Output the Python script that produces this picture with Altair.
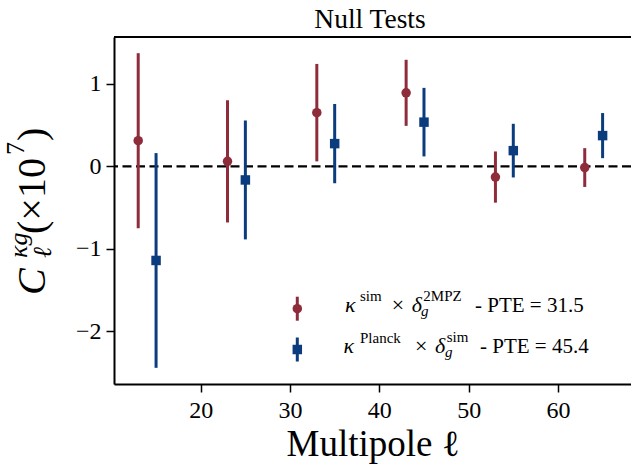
import altair as alt
import pandas as pd

# Bandpower centres of the two null-test cross-spectra
ell_sim_2mpz = [13, 23, 33, 43, 53, 63]
ell_planck_sim = [15, 25, 35, 45, 55, 65]

# C_ell^{kappa g} in units of 1e-7, with 1-sigma errors
cl_sim_2mpz = [0.31, 0.06, 0.65, 0.89, -0.13, -0.015]
err_sim_2mpz = [1.06, 0.74, 0.59, 0.40, 0.31, 0.235]
cl_planck_sim = [-1.14, -0.165, 0.275, 0.535, 0.19, 0.372]
err_planck_sim = [1.30, 0.72, 0.48, 0.415, 0.325, 0.273]

series_names = ["sim x 2MPZ", "Planck x sim"]
series_colors = ["#8E2C3B", "#0B3C7D"]
series_shapes = ["circle", "square"]
pte_values = [31.5, 45.4]

x_ticks = [20, 30, 40, 50, 60]
y_ticks = [-2, -1, 0, 1]

FONT = "Liberation Serif"
W, H = 517, 347
LEFT, TOP = 114, 37

rows = []
for name, ells, cls, errs in [
    (series_names[0], ell_sim_2mpz, cl_sim_2mpz, err_sim_2mpz),
    (series_names[1], ell_planck_sim, cl_planck_sim, err_planck_sim),
]:
    for e, c, s in zip(ells, cls, errs):
        rows.append({"series": name, "ell": e, "cl": c, "err": s})
df = pd.DataFrame(rows)
one_row = pd.DataFrame({"k": [0]})

x_enc = alt.X(
    "ell:Q",
    scale=alt.Scale(domain=[10.29, 68.18], nice=False, zero=False),
    axis=alt.Axis(
        values=x_ticks, format="d", title="Multipole ℓ", titleFont=FONT,
        titleFontSize=37, titleFontWeight="normal", titleColor="black",
        titleBaseline="alphabetic", titleY=71, labelFont=FONT,
        labelFontSize=24, labelColor="black", labelPadding=6, tickSize=8,
        tickWidth=1.5, tickColor="black", domainColor="black", domainWidth=2,
        grid=False, labelFlush=False,
    ),
)
y_enc = alt.Y(
    "cl:Q",
    scale=alt.Scale(domain=[-2.636, 1.566], nice=False, zero=False),
    axis=alt.Axis(
        values=y_ticks, format="d", title="", labelFont=FONT, labelFontSize=24,
        labelColor="black", labelPadding=5, tickSize=8, tickWidth=1.5,
        tickColor="black", domainColor="black", domainWidth=2, grid=False,
        labelFlush=False,
    ),
)
color_enc = alt.Color("series:N", scale=alt.Scale(domain=series_names, range=series_colors), legend=None)
shape_enc = alt.Shape("series:N", scale=alt.Scale(domain=series_names, range=series_shapes), legend=None)

base = alt.Chart(df).transform_calculate(
    lo="datum.cl - datum.err", hi="datum.cl + datum.err"
)

zero_line = alt.Chart(one_row).mark_rule(
    color="black", strokeDash=[9, 4.5], strokeWidth=2.2
).encode(y=alt.datum(0))

bars = base.mark_rule(strokeWidth=3).encode(
    x=x_enc, y=alt.Y("lo:Q"), y2="hi:Q", color=color_enc
)
points = base.mark_point(filled=True, opacity=1, size=90).encode(
    x="ell:Q", y="cl:Q", color=color_enc, shape=shape_enc
)
points_y = base.mark_point(opacity=0).encode(x="ell:Q", y=y_enc)

top_spine = alt.Chart(one_row).mark_rule(color="black", strokeWidth=2).encode(
    x=alt.value(0), x2=alt.value(W), y=alt.value(0)
)


def piece(text, x, y, size, italic=False, angle=0, align="left"):
    return alt.Chart(one_row).mark_text(
        text=text, font=FONT, fontSize=size,
        fontStyle="italic" if italic else "normal",
        align=align, baseline="alphabetic", angle=angle, color="black",
    ).encode(x=alt.value(x), y=alt.value(y))


title = piece("Null Tests", 256, -9, 27.5, align="center")

# y-axis label  C_ell^{kappa g} (x10^7), reading bottom to top
ylabel = [
    piece("C", 45 - LEFT, 295 - TOP, 40, italic=True, angle=270),
    piece("κg", 27 - LEFT, 258 - TOP, 26, italic=True, angle=270),
    piece("ℓ", 51 - LEFT, 258 - TOP, 26, italic=True, angle=270),
    piece("(×10", 45 - LEFT, 234 - TOP, 40, angle=270),
    piece("7", 24 - LEFT, 155 - TOP, 26, angle=270),
    piece(")", 45 - LEFT, 141 - TOP, 40, angle=270),
]

# legend entries: error-bar glyph plus label
def legend_glyph(color, shape, x, y_mid):
    bar = alt.Chart(one_row).mark_rule(color=color, strokeWidth=3).encode(
        x=alt.value(x), y=alt.value(y_mid - 12), y2=alt.value(y_mid + 12)
    )
    mark = alt.Chart(one_row).mark_point(
        color=color, filled=True, opacity=1, size=90, shape=shape
    ).encode(x=alt.value(x), y=alt.value(y_mid))
    return [bar, mark]


legend = []
legend += legend_glyph(series_colors[0], series_shapes[0], 183.3, 271.7)
legend += legend_glyph(series_colors[1], series_shapes[1], 183.3, 312.5)
legend += [
    piece("κ", 231, 274.7, 22, italic=True),
    piece("sim", 246, 263.5, 15),
    piece("×", 277.7, 274.7, 22),
    piece("δ", 297.7, 274.7, 22, italic=True),
    piece("2MPZ", 309.3, 263.7, 15),
    piece("g", 307, 278.5, 15, italic=True),
    piece(f"- PTE = {pte_values[0]}", 361, 274.7, 21),
    piece("κ", 229.5, 316, 22, italic=True),
    piece("Planck", 246, 306, 15),
    piece("×", 301, 316, 22),
    piece("δ", 321, 316, 22, italic=True),
    piece("sim", 332.7, 305, 15),
    piece("g", 331, 320, 15, italic=True),
    piece(f"- PTE = {pte_values[1]}", 366, 316, 21),
]

chart = alt.layer(
    zero_line, bars, points, points_y, top_spine, title, *ylabel, *legend
).properties(
    width=W,
    height=H,
    autosize=alt.AutoSizeParams(type="none"),
    padding={"left": LEFT, "top": TOP, "right": 0, "bottom": 466 - TOP - H},
).configure_view(stroke="transparent").configure(background="white")

chart.save("out.html", embed_options={"renderer": "svg", "actions": False})
